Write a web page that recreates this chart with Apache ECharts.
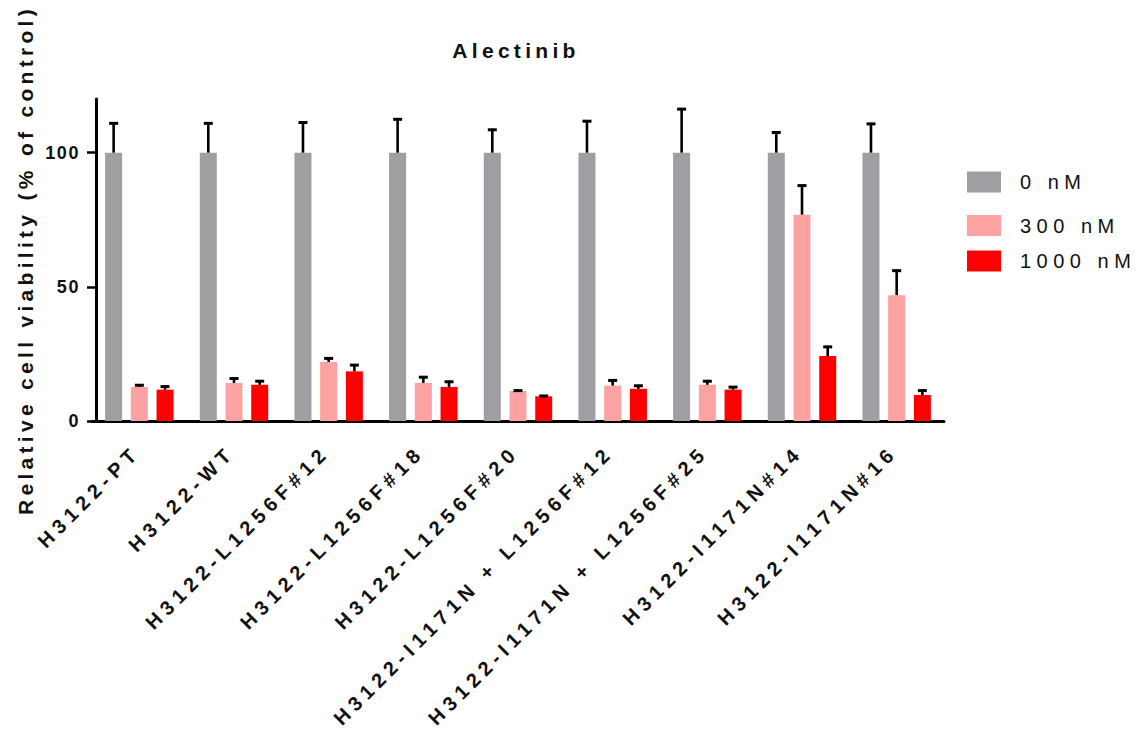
<!DOCTYPE html>
<html>
<head>
<meta charset="utf-8">
<script src="https://cdn.jsdelivr.net/npm/echarts@6/dist/echarts.min.js"></script>
<style>
html,body{margin:0;padding:0;background:#fff;}
#c{width:1140px;height:743px;}
#c text[style*="20px"]{letter-spacing:5.5px;}
#c text[style*="21px"]{letter-spacing:4.3px;}
#c text[style*="18px"]{letter-spacing:1.6px;}
</style>
</head>
<body>
<div id="c"></div>
<script>
const categories = [
  'H3122-PT', 'H3122-WT', 'H3122-L1256F#12', 'H3122-L1256F#18', 'H3122-L1256F#20',
  'H3122-I1171N + L1256F#12', 'H3122-I1171N + L1256F#25', 'H3122-I1171N#14', 'H3122-I1171N#16'
];
const seriesNames = ['0 nM', '300 nM', '1000 nM'];
const mean0 = [100, 100, 100, 100, 100, 100, 100, 100, 100];
const sd0 = [11.3, 11.3, 11.6, 12.8, 8.9, 12.1, 16.6, 7.9, 11.1];
const mean300 = [12.7, 14.2, 22.0, 14.2, 11.2, 13.2, 13.5, 76.9, 46.9];
const sd300 = [1.0, 2.0, 1.7, 2.5, 0.5, 2.3, 1.7, 11.2, 9.5];
const mean1000 = [11.7, 13.5, 18.5, 12.7, 9.2, 12.0, 11.7, 24.2, 9.7];
const sd1000 = [1.5, 1.7, 2.7, 2.3, 0.5, 1.5, 1.3, 3.8, 2.0];
const yTicks = [0, 50, 100];

const colors = ['#9e9ea3', '#fca2a2', '#ff0000'];
const BAR_W = 17;
const BAR_GAP = 8.7;
const CAP = 9;
const FONT = '"Liberation Sans", Arial, sans-serif';

const chart = echarts.init(document.getElementById('c'), null, {renderer: 'svg'});

const means = [mean0, mean300, mean1000];
const sds = [sd0, sd300, sd1000];

function errRender(offset) {
  return function (params, api) {
    const i = api.value(0), m = api.value(1), s = api.value(2);
    const p0 = api.coord([i, m]);
    const p1 = api.coord([i, m + s]);
    const x = p0[0] + offset;
    return {
      type: 'group',
      children: [
        {type: 'line', shape: {x1: x, y1: p0[1], x2: x, y2: p1[1]}, style: {stroke: '#000', lineWidth: 2.6}},
        {type: 'line', shape: {x1: x - CAP / 2, y1: p1[1] + 1, x2: x + CAP / 2, y2: p1[1] + 1}, style: {stroke: '#000', lineWidth: 3}}
      ]
    };
  };
}

const series = [];
seriesNames.forEach((name, k) => {
  series.push({
    name: name,
    type: 'bar',
    data: means[k],
    barWidth: BAR_W,
    barGap: (BAR_GAP / BAR_W * 100).toFixed(1) + '%',
    itemStyle: {color: colors[k]},
    z: 2
  });
});
seriesNames.forEach((name, k) => {
  series.push({
    name: name + ' err',
    type: 'custom',
    renderItem: errRender((k - 1) * (BAR_W + BAR_GAP)),
    data: means[k].map((v, i) => [i, v, sds[k][i]]),
    encode: {x: 0, y: 1},
    clip: false,
    z: 3
  });
});

const legendTops = [171.5, 215, 250.5];
const legends = seriesNames.map((name, k) => ({
  data: [name],
  left: 967,
  top: legendTops[k],
  padding: 0,
  itemWidth: 34,
  itemHeight: 21,
  icon: 'rect',
  selectedMode: false,
  textStyle: {fontSize: 20, fontFamily: FONT, color: '#111', padding: [8, 0, 0, 14]}
}));

chart.setOption({
  animation: false,
  backgroundColor: '#fff',
  title: {
    text: 'Alectinib',
    left: 516,
    top: 40,
    padding: 0,
    textAlign: 'center',
    textStyle: {fontSize: 21, fontWeight: 'bold', fontFamily: FONT, color: '#111'}
  },
  legend: legends,
  grid: {left: 92, top: 99, width: 852, bottom: 322, containLabel: false},
  xAxis: {
    type: 'category',
    data: categories,
    axisLine: {lineStyle: {color: '#000', width: 3}},
    axisTick: {alignWithLabel: true, length: 8, lineStyle: {color: '#000', width: 2.5}},
    axisLabel: {
      interval: 0, rotate: 45, margin: 25, padding: [0, 4, 0, 0],
      fontSize: 20, fontWeight: 'bold', fontFamily: FONT, color: '#111'
    },
    splitLine: {show: false}
  },
  yAxis: {
    type: 'value',
    min: 0,
    max: 120,
    offset: -4,
    name: 'Relative cell viability (% of control)',
    nameLocation: 'middle',
    nameGap: 60,
    nameTextStyle: {fontSize: 21, fontWeight: 'bold', fontFamily: FONT, color: '#111'},
    axisLine: {show: true, lineStyle: {color: '#000', width: 3}},
    axisTick: {show: true, length: 9, customValues: yTicks, lineStyle: {color: '#000', width: 2.5}},
    axisLabel: {customValues: yTicks, margin: 16, fontSize: 18, fontWeight: 'bold', fontFamily: FONT, color: '#111'},
    splitLine: {show: false}
  },
  series: series
});
</script>
</body>
</html>
